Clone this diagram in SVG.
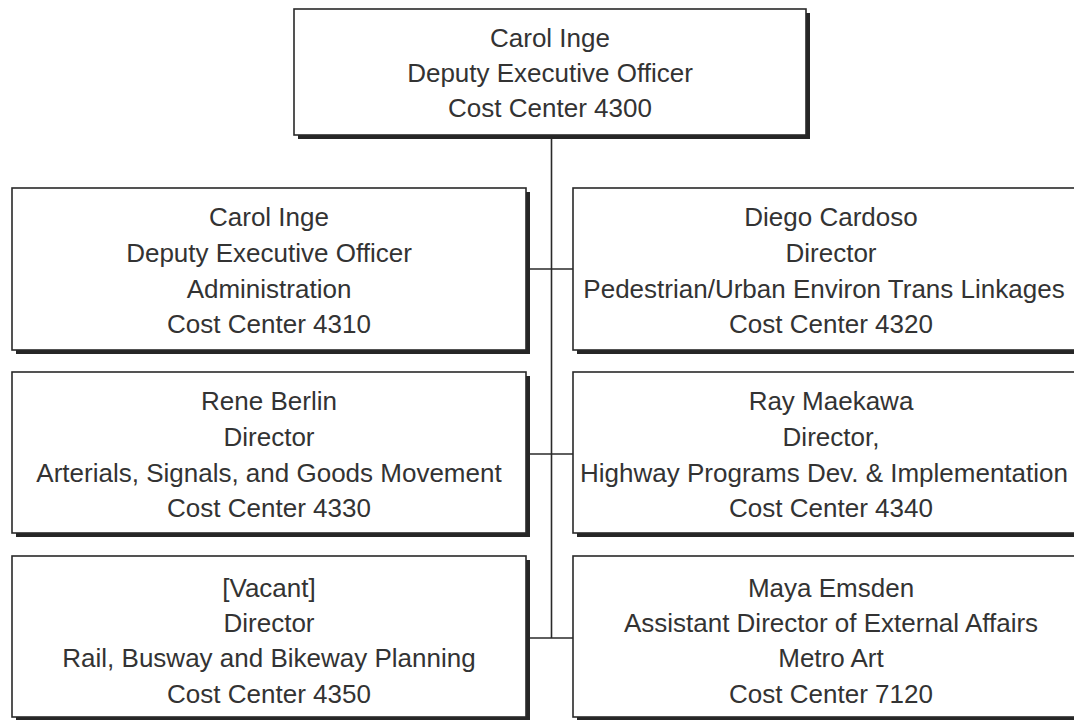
<svg xmlns="http://www.w3.org/2000/svg" width="1074" height="720" viewBox="0 0 1074 720">
<style>
.sh{fill:#262626}
.bx{fill:#fff;stroke:#2a2a2a;stroke-width:1.6}
.t{font-family:"Liberation Sans",Arial,sans-serif;font-size:26px;fill:#333;text-anchor:middle}
.c{stroke:#2a2a2a;stroke-width:1.6;fill:none}
</style>
<rect width="1074" height="720" fill="#fff"/>
<g id="connectors">
<line class="c" x1="551.5" y1="135" x2="551.5" y2="638"/>
<line class="c" x1="528" y1="269" x2="574" y2="269"/>
<line class="c" x1="528" y1="454" x2="574" y2="454"/>
<line class="c" x1="528" y1="638" x2="574" y2="638"/>
</g>
<g id="n4300">
<rect class="sh" x="298" y="13" width="512" height="126"/>
<rect class="bx" x="294" y="9" width="512" height="126"/>
<text class="t" x="550" y="47">Carol Inge</text>
<text class="t" x="550" y="82">Deputy Executive Officer</text>
<text class="t" x="550" y="117">Cost Center 4300</text>
</g>
<g id="n4310">
<rect class="sh" x="16" y="192" width="514" height="162"/>
<rect class="bx" x="12" y="188" width="514" height="162"/>
<text class="t" x="269" y="226">Carol Inge</text>
<text class="t" x="269" y="262">Deputy Executive Officer</text>
<text class="t" x="269" y="297.5">Administration</text>
<text class="t" x="269" y="333">Cost Center 4310</text>
</g>
<g id="n4320">
<rect class="sh" x="577" y="192" width="517" height="162"/>
<rect class="bx" x="573" y="188" width="517" height="162"/>
<text class="t" x="831" y="226">Diego Cardoso</text>
<text class="t" x="831" y="262">Director</text>
<text class="t" x="824" y="297.5">Pedestrian/Urban Environ Trans Linkages</text>
<text class="t" x="831" y="333">Cost Center 4320</text>
</g>
<g id="n4330">
<rect class="sh" x="16" y="376" width="514" height="161"/>
<rect class="bx" x="12" y="372" width="514" height="161"/>
<text class="t" x="269" y="410">Rene Berlin</text>
<text class="t" x="269" y="446">Director</text>
<text class="t" x="269" y="481.5">Arterials, Signals, and Goods Movement</text>
<text class="t" x="269" y="517">Cost Center 4330</text>
</g>
<g id="n4340">
<rect class="sh" x="577" y="376" width="517" height="161"/>
<rect class="bx" x="573" y="372" width="517" height="161"/>
<text class="t" x="831" y="410">Ray Maekawa</text>
<text class="t" x="831" y="446">Director,</text>
<text class="t" x="824" y="481.5">Highway Programs Dev. &amp; Implementation</text>
<text class="t" x="831" y="517">Cost Center 4340</text>
</g>
<g id="n4350">
<rect class="sh" x="16" y="560" width="514" height="161"/>
<rect class="bx" x="12" y="556" width="514" height="161"/>
<text class="t" x="269" y="596.5">[Vacant]</text>
<text class="t" x="269" y="632">Director</text>
<text class="t" x="269" y="667">Rail, Busway and Bikeway Planning</text>
<text class="t" x="269" y="702.5">Cost Center 4350</text>
</g>
<g id="n7120">
<rect class="sh" x="577" y="560" width="517" height="161"/>
<rect class="bx" x="573" y="556" width="517" height="161"/>
<text class="t" x="831" y="596.5">Maya Emsden</text>
<text class="t" x="831" y="632">Assistant Director of External Affairs</text>
<text class="t" x="831" y="667">Metro Art</text>
<text class="t" x="831" y="702.5">Cost Center 7120</text>
</g>
</svg>
